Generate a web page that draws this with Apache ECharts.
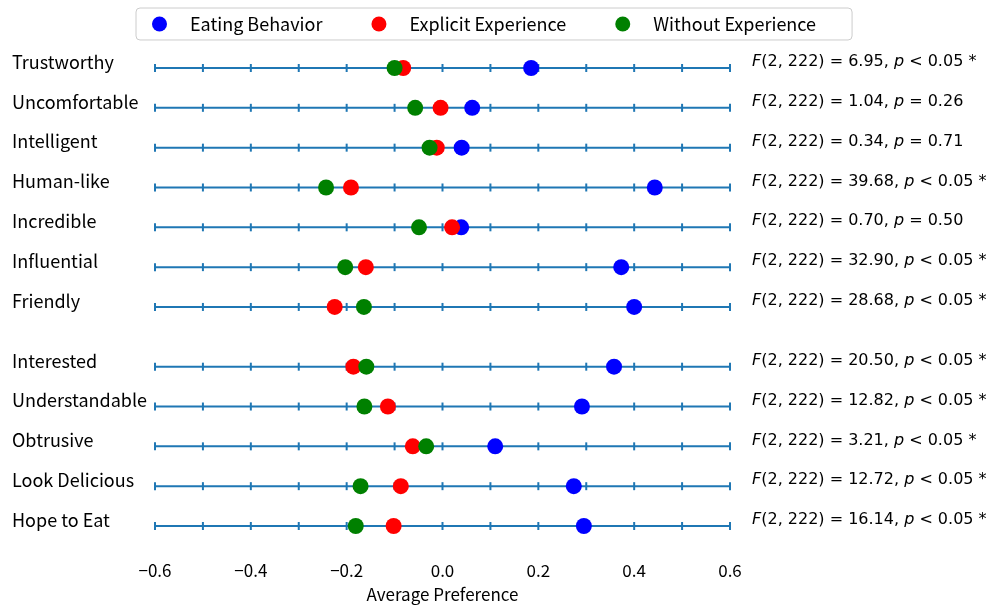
<!DOCTYPE html>
<html>
<head>
<meta charset="utf-8">
<script src="https://cdn.jsdelivr.net/npm/echarts@6/dist/echarts.min.js"></script>
<style>
  html, body { margin: 0; padding: 0; background: #fff; }
  #main { width: 1001px; height: 608px; }
</style>
</head>
<body>
<div id="main"></div>
<script>
// two groups of attributes, a small gap between them
var group1 = ['Trustworthy', 'Uncomfortable', 'Intelligent', 'Human-like', 'Incredible', 'Influential', 'Friendly'];
var group2 = ['Interested', 'Understandable', 'Obtrusive', 'Look Delicious', 'Hope to Eat'];

var eatingBehavior     = [0.185, 0.062, 0.040, 0.443, 0.039, 0.373, 0.400, 0.358, 0.291, 0.110, 0.274, 0.295];
var explicitExperience = [-0.082, -0.004, -0.012, -0.191, 0.020, -0.160, -0.225, -0.186, -0.114, -0.062, -0.087, -0.102];
var withoutExperience  = [-0.100, -0.057, -0.027, -0.243, -0.049, -0.203, -0.164, -0.159, -0.163, -0.034, -0.171, -0.181];

var fValues = ['6.95', '1.04', '0.34', '39.68', '0.70', '32.90', '28.68', '20.50', '12.82', '3.21', '12.72', '16.14'];
var pTexts  = ['< 0.05 *', '= 0.26', '= 0.71', '< 0.05 *', '= 0.50', '< 0.05 *', '< 0.05 *',
               '< 0.05 *', '< 0.05 *', '< 0.05 *', '< 0.05 *', '< 0.05 *'];

var rowTicks = [-0.6, -0.5, -0.4, -0.3, -0.2, -0.1, 0, 0.1, 0.2, 0.3, 0.4, 0.5, 0.6];

var xMin = -0.6, xMax = 0.6;
var labelFont = '"Noto Sans CJK JP", "Noto Sans", sans-serif';
var mathFont = '"DejaVu Sans", Verdana, sans-serif';

// row positions: group 2 is pushed down by half a row
var names = group1.concat(group2);
var rowPos = names.map(function (n, i) { return i < group1.length ? i : i + 0.5; });

function seriesData(vals) {
  return vals.map(function (v, i) { return [v, rowPos[i]]; });
}

var myChart = echarts.init(document.getElementById('main'));

var option = {
  animation: false,
  legend: {
    left: 136,
    top: 8,
    itemWidth: 15,
    itemHeight: 15,
    itemGap: 49,
    icon: 'circle',
    padding: [7, 36, 7, 16],
    borderColor: '#cccccc',
    borderWidth: 1,
    borderRadius: 4,
    textStyle: { fontSize: 18, color: '#000', fontFamily: labelFont, padding: [0, 0, 0, 18] },
    data: ['Eating Behavior', 'Explicit Experience', 'Without Experience']
  },
  grid: { left: 155, right: 271, top: 68, height: 460 },
  xAxis: {
    type: 'value',
    min: xMin,
    max: xMax,
    interval: 0.2,
    axisLine: { show: false },
    axisTick: { show: false },
    splitLine: { show: false },
    axisLabel: {
      margin: 36,
      fontSize: 17,
      color: '#000',
      fontFamily: labelFont,
      formatter: function (v) {
        return (v < 0 ? '\u2212' : '') + Math.abs(v).toFixed(1);
      }
    },
    name: 'Average Preference',
    nameLocation: 'middle',
    nameGap: 60,
    nameTextStyle: { fontSize: 17, color: '#000', fontFamily: labelFont }
  },
  yAxis: [
    {
      type: 'value',
      inverse: true,
      min: 0,
      max: 11.5,
      axisLine: { show: false },
      axisTick: { show: false },
      splitLine: { show: false },
      axisLabel: {
        customValues: rowPos,
        align: 'left',
        verticalAlign: 'bottom',
        lineHeight: 12,
        margin: 143,
        fontSize: 18,
        color: '#000',
        fontFamily: labelFont,
        formatter: function (v) { return names[rowPos.indexOf(v)]; }
      }
    },
    {
      type: 'value',
      position: 'right',
      inverse: true,
      min: 0,
      max: 11.5,
      axisLine: { show: false },
      axisTick: { show: false },
      splitLine: { show: false },
      axisLabel: {
        customValues: rowPos,
        align: 'left',
        verticalAlign: 'bottom',
        lineHeight: 12,
        margin: 22,
        fontSize: 16,
        color: '#000',
        fontFamily: mathFont,
        formatter: function (v) {
          var i = rowPos.indexOf(v);
          return '{i|F}{n|(2, 222) = ' + fValues[i] + ', }{i|p}{n| ' + pTexts[i] + '}';
        },
        rich: {
          i: { fontStyle: 'italic', fontSize: 16, fontFamily: mathFont, color: '#000', lineHeight: 12 },
          n: { fontSize: 16, fontFamily: mathFont, color: '#000', lineHeight: 12 }
        }
      }
    }
  ],
  series: [
    {
      type: 'custom',
      z: 1,
      silent: true,
      data: rowPos.map(function (p) { return [0, p]; }),
      renderItem: function (params, api) {
        var y = api.value(1);
        var a = api.coord([xMin, y]);
        var b = api.coord([xMax, y]);
        var children = [{
          type: 'line',
          shape: { x1: a[0], y1: a[1], x2: b[0], y2: b[1] },
          style: { stroke: '#1f77b4', lineWidth: 2 }
        }];
        rowTicks.forEach(function (t) {
          var p = api.coord([t, y]);
          children.push({
            type: 'line',
            shape: { x1: p[0], y1: p[1] - 4, x2: p[0], y2: p[1] + 4 },
            style: { stroke: '#1f77b4', lineWidth: 2 }
          });
        });
        return { type: 'group', children: children };
      }
    },
    {
      name: 'Eating Behavior',
      type: 'scatter',
      z: 3,
      symbolSize: 16,
      itemStyle: { color: '#0000ff', opacity: 1 },
      data: seriesData(eatingBehavior)
    },
    {
      name: 'Explicit Experience',
      type: 'scatter',
      z: 4,
      symbolSize: 16,
      itemStyle: { color: '#ff0000', opacity: 1 },
      data: seriesData(explicitExperience)
    },
    {
      name: 'Without Experience',
      type: 'scatter',
      z: 5,
      symbolSize: 16,
      itemStyle: { color: '#008000', opacity: 1 },
      data: seriesData(withoutExperience)
    }
  ]
};

myChart.setOption(option);
</script>
</body>
</html>
